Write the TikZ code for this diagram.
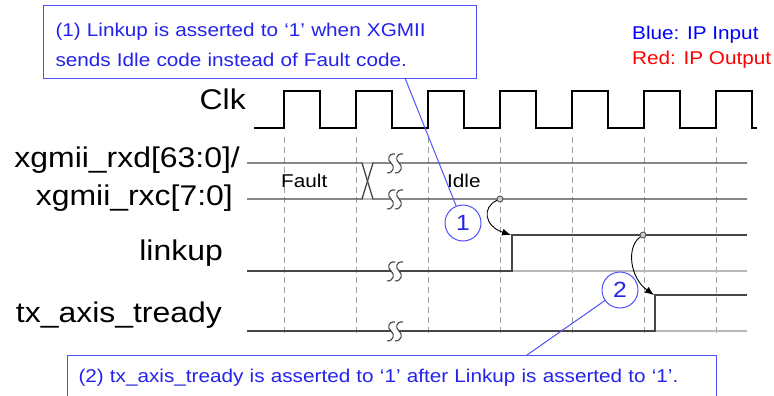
\documentclass[tikz,border=0pt]{standalone}
\usepackage{fontspec}
\setmainfont{Liberation Sans}[FakeStretch=1.12]
\usetikzlibrary{arrows.meta}
\definecolor{callblue}{RGB}{35,35,235}
\definecolor{boxblue}{RGB}{80,80,250}
\definecolor{wave}{RGB}{70,70,70}

\begin{document}
\begin{tikzpicture}[x=1pt, y=-1pt,
    lbl/.style={anchor=base east, inner sep=0pt, font=\fontsize{28.5}{30}\selectfont},
    small/.style={inner sep=0pt, font=\fontsize{18.5}{30}\selectfont},
    callout/.style={small, draw=boxblue, line width=1pt, fill=white, text=callblue,
        align=left, inner xsep=12pt, anchor=north west},
    num/.style={circle, draw=boxblue, line width=1pt, fill=white, text=callblue,
        minimum size=36pt, inner sep=0pt, font=\fontsize{22}{24}\selectfont},
    pointer/.style={boxblue, line width=1pt},
    clk/.style={black, line width=1.1pt},
    sig/.style={wave, line width=1.3pt},
    faint/.style={gray!55, line width=1.3pt},
    grid/.style={gray!75, line width=0.9pt, dash pattern=on 6pt off 4pt},
    brk/.style={wave, line width=1.1pt},
    dot/.style={circle, draw=wave, fill=gray!40, line width=0.8pt, minimum size=6pt, inner sep=0pt},
    cause/.style={black, line width=0.9pt, -{Latex[length=9pt,width=7pt]}}]
    \useasboundingbox (0,0) rectangle (774,396);
    \clip (0,0) rectangle (774,396);

    % Lineas de tiempo en cada flanco de subida.
    \foreach \r in {284,356,...,716}
        \draw[grid] (\r,137) -- (\r,336);

    % Reloj.
    \draw[clk] (254,128)
        \foreach \r in {284,356,...,716} { -- (\r,128) -- (\r,91) -- ({\r+36},91) -- ({\r+36},128) }
        -- (757,128);

    % Bus xgmii: Fault y luego Idle.
    \draw[faint] (362,163) -- (373,163) (362,199) -- (373,199);
    \draw[sig] (247,163) -- (362,163) -- (373,199) -- (747,199);
    \draw[sig] (247,199) -- (362,199) -- (373,163) -- (747,163);

    % linkup y tx_axis_tready.
    \draw[faint] (512,271) -- (747,271);
    \draw[sig] (247,271) -- (512,271) -- (512,235) -- (747,235);
    \draw[faint] (655,331) -- (747,331);
    \draw[sig] (247,331) -- (655,331) -- (655,295) -- (747,295);

    % Cortes de tiempo.
    \foreach \y in {163,199,271,331} {
        \fill[white] (391,\y-2) rectangle (399,\y+2);
        \foreach \c in {391,399}
            \draw[brk] (\c+4,\y-9) .. controls (\c-3,\y-10) and (\c-4,\y-3) .. (\c,\y)
                .. controls (\c+4,\y+3) and (\c+3,\y+10) .. (\c-4,\y+10);
    }

    % Nombres de las senales.
    \node[lbl] (clkname) at (246,110) {Clk};
    \node[lbl] (rxdname) at (240,167) {xgmii\_rxd[63:0]/};
    \node[lbl] (rxcname) at (233,205) {xgmii\_rxc[7:0]};
    \node[lbl] (lnkname) at (223,260) {linkup};
    \node[lbl] (rdyname) at (222,322) {tx\_axis\_tready};
    \node[small, anchor=base west] (fault) at (281,187) {Fault};
    \node[small, anchor=base west] (idle) at (447,187) {Idle};

    % Causa y efecto.
    \node[dot] (m1) at (500,199) {};
    \coordinate (up1) at (511,235);
    \draw[cause] (m1) .. controls (482,207) and (484,226) .. (up1);
    \node[dot] (m2) at (643,235) {};
    \coordinate (up2) at (654,295);
    \draw[cause] (m2) .. controls (626,247) and (630,278) .. (up2);

    % Notas.
    \node[callout, text width=409pt, minimum height=73pt] (box1) at (43,5)
        {\rule{0pt}{20pt}(1) Linkup is asserted to ‘1’ when XGMII\\sends Idle code instead of Fault code.};
    \node[callout, text width=627pt, inner xsep=11pt, minimum height=44pt] (box2) at (67,355)
        {(2) tx\_axis\_tready is asserted to ‘1’ after Linkup is asserted to ‘1’.};
    \node[num] (n1) at (463,223) {1};
    \node[num] (n2) at (620,290) {2};
    \coordinate (p1) at (405,78);
    \draw[pointer] (p1) -- (n1);
    \coordinate (p2) at (527,355);
    \draw[pointer] (n2) -- (p2);

    % Leyenda.
    \node[small, anchor=base west, text=blue] (leg1) at (632,40) {Blue: IP Input};
    \node[small, anchor=base west, text=red] (leg2) at (632,65) {Red: IP Output};
\end{tikzpicture}
\end{document}
